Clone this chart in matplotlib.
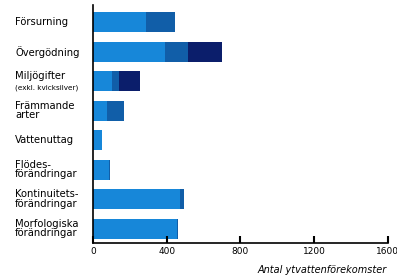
import numpy as np
import matplotlib
matplotlib.use("Agg")
from matplotlib import pyplot as plt

plt.rcParams['font.family'] = ['Liberation Sans Narrow', 'DejaVu Sans']

categories = ["Försurning", "Övergödning", "Miljögifter", "Främmande\narter",
              "Vattenuttag", "Flödes-\nförändringar", "Kontinuitets-\nförändringar",
              "Morfologiska\nförändringar"]
sublabel = "(exkl. kvicksilver)"
# three stacked segments per category
seg1 = [290, 389, 103, 77, 52, 85, 470, 455]
seg2 = [157, 128, 39, 91, 0, 7, 24, 6]
seg3 = [0, 182, 114, 0, 0, 0, 0, 0]
xticks = [0, 400, 800, 1200, 1600]
xlabel = "Antal ytvattenförekomster"

colors = ["#1787d9", "#115ea8", "#0b1e6b"]

fig = plt.figure(figsize=(3.97, 2.80), dpi=100)
ax = fig.add_axes([0.234, 0.132, 0.743, 0.85])

y = np.arange(len(categories))
s1 = np.array(seg1); s2 = np.array(seg2); s3 = np.array(seg3)
ax.barh(y, s1, height=0.68, color=colors[0])
ax.barh(y, s2, left=s1, height=0.68, color=colors[1])
ax.barh(y, s3, left=s1 + s2, height=0.68, color=colors[2])

ax.set_xlim(0, 1600)
ax.set_ylim(7.49, -0.58)
ax.set_yticks([])
ax.set_xticks(xticks)
ax.set_xticklabels([str(t) for t in xticks], fontsize=6.5)
ax.tick_params(axis='x', direction='in', length=5, width=1.5, pad=3)
for s in ['top', 'right']:
    ax.spines[s].set_visible(False)
ax.spines['left'].set_linewidth(1.2)
ax.spines['bottom'].set_linewidth(1.2)

tr = ax.get_yaxis_transform()
for i, lab in enumerate(categories):
    if lab == "Miljögifter":
        ax.text(-0.264, i - 0.19, lab, transform=tr, ha='left', va='center',
                fontsize=7.2, clip_on=False)
        ax.text(-0.264, i + 0.22, sublabel, transform=tr, ha='left', va='center',
                fontsize=5.2, clip_on=False)
    else:
        ax.text(-0.264, i, lab, transform=tr, ha='left', va='center',
                fontsize=7.2, linespacing=0.95, clip_on=False)

fig.text(0.975, 0.035, xlabel, ha='right', va='center', fontsize=7, style='italic')

plt.savefig("out.png", dpi=100)
